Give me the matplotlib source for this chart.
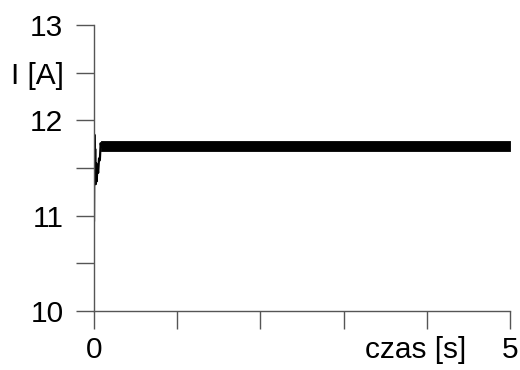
import matplotlib.pyplot as plt

plt.rcParams['font.family'] = ['Liberation Sans', 'DejaVu Sans']

# start-up transient of the current
t_start = [0.000, 0.004, 0.010, 0.014, 0.020, 0.026, 0.032, 0.040, 0.050, 0.060, 0.070, 0.080, 0.088]
i_start = [10.95, 11.85, 11.40, 11.70, 11.33, 11.55, 11.36, 11.50, 11.45, 11.60, 11.58, 11.76, 11.72]

# steady-state ripple envelope
t_ripple = [0.085, 0.1, 1.0, 2.0, 3.0, 4.0, 5.0]
i_low = [11.675, 11.675, 11.675, 11.675, 11.675, 11.675, 11.675]
i_high = [11.785, 11.785, 11.785, 11.785, 11.785, 11.785, 11.785]

y_ticks = [10, 10.5, 11, 11.5, 12, 12.5, 13]
y_labels = ['10', '', '11', '', '12', 'I [A]', '13']
x_ticks = [0, 1, 2, 3, 4, 5]
x_labels = ['0', '', '', '', '', '5']

fig = plt.figure(figsize=(5.2, 3.7), dpi=100)
ax = fig.add_axes([0.1808, 0.1595, 0.8, 0.773])

ax.plot(t_start, i_start, color='black', lw=1.6)
ax.fill_between(t_ripple, i_low, i_high, color='black', lw=0.6)

ax.set_xlim(0, 5)
ax.set_ylim(10, 13)
ax.set_xticks(x_ticks)
ax.set_xticklabels(x_labels)
ax.set_yticks(y_ticks)
ax.set_yticklabels(y_labels)

for s in ['top', 'right']:
    ax.spines[s].set_visible(False)
for s in ['left', 'bottom']:
    ax.spines[s].set_color('#555555')
    ax.spines[s].set_linewidth(1.0)

ax.tick_params(axis='both', direction='out', length=13, width=1.0,
               color='#555555', labelsize=21.5)
ax.tick_params(axis='y', pad=9)
ax.tick_params(axis='x', pad=5)

ax.annotate('czas [s]', xy=(3.87, 0), xycoords=('data', 'axes fraction'),
            xytext=(0, -18), textcoords='offset points',
            ha='center', va='top', fontsize=21.5)

fig.savefig('out.png', dpi=100)
